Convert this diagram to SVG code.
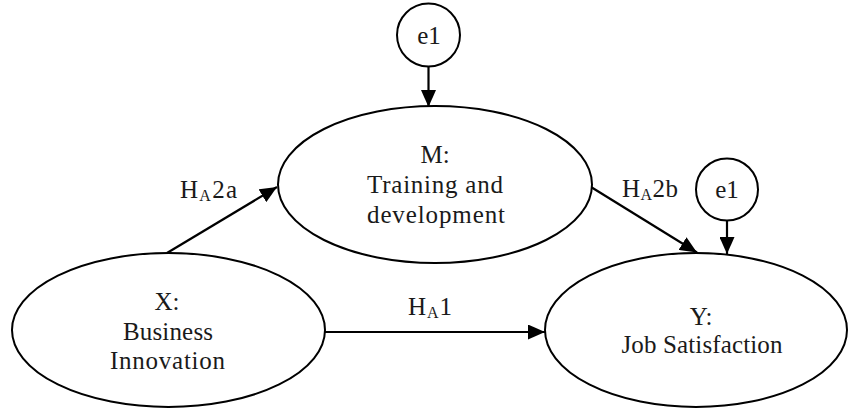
<svg xmlns="http://www.w3.org/2000/svg" width="848" height="409" viewBox="0 0 848 409">
<style>
.shape{fill:#fff;stroke:#000;stroke-width:2}
.t{font-family:"Liberation Serif","Times New Roman",serif;font-size:25px;fill:#1a1a1a;text-anchor:middle}
.l{font-family:"Liberation Serif","Times New Roman",serif;font-size:25px;fill:#1a1a1a}
.sub{font-size:16px}
.c{stroke:#000;stroke-width:2.2;fill:none;marker-end:url(#ah)}
</style>
<defs>
<marker id="ah" markerUnits="userSpaceOnUse" markerWidth="17" markerHeight="15" refX="17" refY="7.5" orient="auto">
<path d="M0,0 L17,7.5 L0,15 z" fill="#000"/>
</marker>
</defs>
<rect width="848" height="409" fill="#fff"/>
<g id="connectors">
<line class="c" x1="428.5" y1="67" x2="428.5" y2="107"/>
<line class="c" x1="727" y1="220" x2="727" y2="254"/>
<line class="c" x1="167" y1="253" x2="277" y2="187"/>
<line class="c" x1="591" y1="187" x2="697" y2="252.5"/>
<line class="c" x1="325" y1="332" x2="545" y2="332"/>
<text class="l" x="180" y="198" textLength="57" lengthAdjust="spacing">H<tspan class="sub" dy="3">A</tspan><tspan dy="-3">2a</tspan></text>
<text class="l" x="622" y="197" textLength="56" lengthAdjust="spacing">H<tspan class="sub" dy="3">A</tspan><tspan dy="-3">2b</tspan></text>
<text class="l" x="408" y="315" textLength="44" lengthAdjust="spacing">H<tspan class="sub" dy="3">A</tspan><tspan dy="-3">1</tspan></text>
</g>
<g id="e1-top">
<circle class="shape" cx="428.5" cy="35" r="31.5"/>
<text class="t" x="429" y="44">e1</text>
</g>
<g id="e1-right">
<circle class="shape" cx="727" cy="189.5" r="31"/>
<text class="t" x="727" y="198">e1</text>
</g>
<g id="M">
<ellipse class="shape" cx="435" cy="184.5" rx="157" ry="78.5"/>
<text class="t" x="435" y="163">M:</text>
<text class="t" x="435" y="193" textLength="136" lengthAdjust="spacing">Training and</text>
<text class="t" x="436" y="223" textLength="138" lengthAdjust="spacing">development</text>
</g>
<g id="X">
<ellipse class="shape" cx="168.5" cy="330" rx="156.5" ry="77"/>
<text class="t" x="167" y="310">X:</text>
<text class="t" x="168" y="340" textLength="90" lengthAdjust="spacing">Business</text>
<text class="t" x="167.5" y="369" textLength="115" lengthAdjust="spacing">Innovation</text>
</g>
<g id="Y">
<ellipse class="shape" cx="696" cy="330" rx="151" ry="77"/>
<text class="t" x="701" y="325">Y:</text>
<text class="t" x="702" y="353" textLength="161" lengthAdjust="spacing">Job Satisfaction</text>
</g>
</svg>
